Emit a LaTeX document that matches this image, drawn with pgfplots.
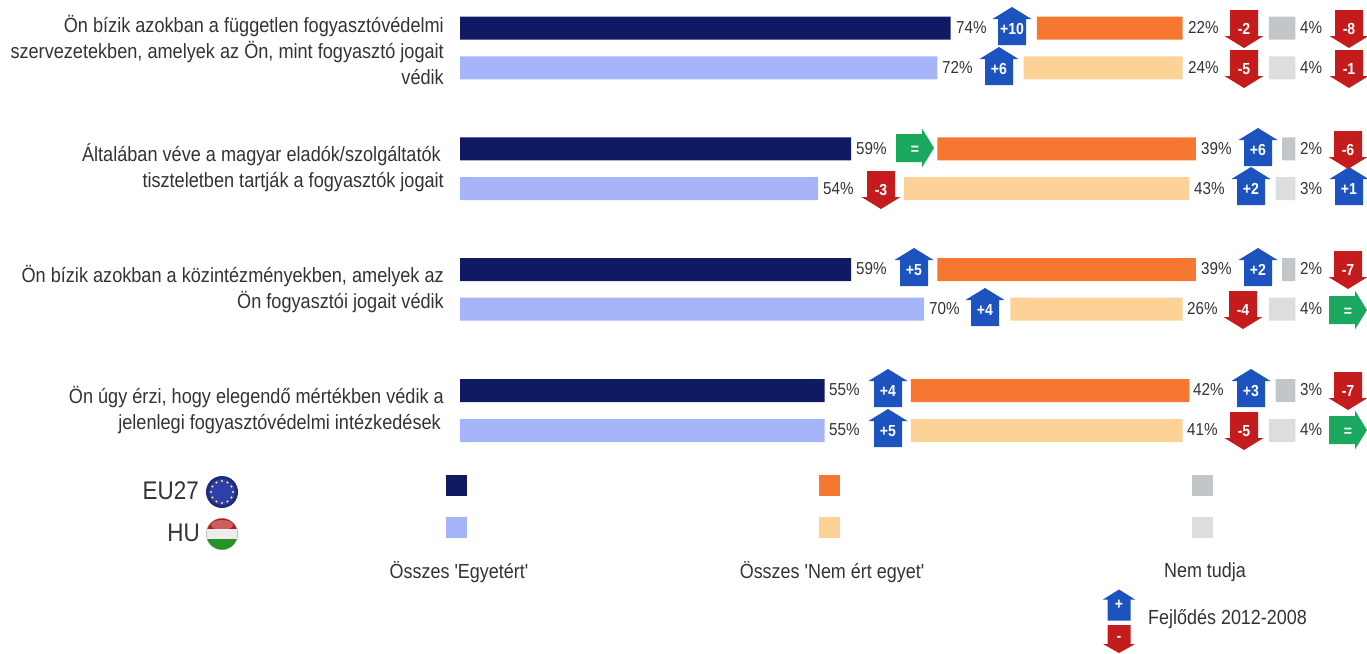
\documentclass[border=0pt]{standalone}
\usepackage{fontspec}
\setmainfont[FakeStretch=0.88,Ligatures=TeXOff]{Liberation Sans}
\usepackage{pgfplots}
\pgfplotsset{compat=1.18}

\definecolor{euagree}{HTML}{101A64}
\definecolor{huagree}{HTML}{A6B4FA}
\definecolor{eudis}{HTML}{F6772F}
\definecolor{hudis}{HTML}{FDD296}
\definecolor{eudk}{HTML}{C3C6C8}
\definecolor{hudk}{HTML}{DCDDDE}
\definecolor{arrblue}{HTML}{1C53BE}
\definecolor{arrred}{HTML}{C41C1C}
\definecolor{arrgreen}{HTML}{1BA85F}
\definecolor{txt}{HTML}{333333}

% change arrows, origin in the middle
\pgfdeclareplotmark{up}{%
  \pgfsetfillcolor{arrblue}%
  \pgfpathmoveto{\pgfpoint{-14pt}{-19pt}}\pgfpathlineto{\pgfpoint{14pt}{-19pt}}%
  \pgfpathlineto{\pgfpoint{14pt}{7pt}}\pgfpathlineto{\pgfpoint{19.5pt}{7pt}}%
  \pgfpathlineto{\pgfpoint{0pt}{19pt}}\pgfpathlineto{\pgfpoint{-19.5pt}{7pt}}%
  \pgfpathlineto{\pgfpoint{-14pt}{7pt}}\pgfpathclose\pgfusepath{fill}}
\pgfdeclareplotmark{down}{%
  \pgfsetfillcolor{arrred}%
  \pgfpathmoveto{\pgfpoint{-14pt}{19pt}}\pgfpathlineto{\pgfpoint{14pt}{19pt}}%
  \pgfpathlineto{\pgfpoint{14pt}{-7pt}}\pgfpathlineto{\pgfpoint{19.5pt}{-7pt}}%
  \pgfpathlineto{\pgfpoint{0pt}{-19pt}}\pgfpathlineto{\pgfpoint{-19.5pt}{-7pt}}%
  \pgfpathlineto{\pgfpoint{-14pt}{-7pt}}\pgfpathclose\pgfusepath{fill}}
\pgfdeclareplotmark{same}{%
  \pgfsetfillcolor{arrgreen}%
  \pgfpathmoveto{\pgfpoint{-19pt}{-14pt}}\pgfpathlineto{\pgfpoint{-19pt}{14pt}}%
  \pgfpathlineto{\pgfpoint{7pt}{14pt}}\pgfpathlineto{\pgfpoint{7pt}{19.5pt}}%
  \pgfpathlineto{\pgfpoint{19pt}{0pt}}\pgfpathlineto{\pgfpoint{7pt}{-19.5pt}}%
  \pgfpathlineto{\pgfpoint{7pt}{-14pt}}\pgfpathclose\pgfusepath{fill}}
% smaller ones for the key
\pgfdeclareplotmark{keyup}{%
  \pgfsetfillcolor{arrblue}%
  \pgfpathmoveto{\pgfpoint{-11.5pt}{-15.5pt}}\pgfpathlineto{\pgfpoint{11.5pt}{-15.5pt}}%
  \pgfpathlineto{\pgfpoint{11.5pt}{5.5pt}}\pgfpathlineto{\pgfpoint{16pt}{5.5pt}}%
  \pgfpathlineto{\pgfpoint{0pt}{15.5pt}}\pgfpathlineto{\pgfpoint{-16pt}{5.5pt}}%
  \pgfpathlineto{\pgfpoint{-11.5pt}{5.5pt}}\pgfpathclose\pgfusepath{fill}}
\pgfdeclareplotmark{keydown}{%
  \pgfsetfillcolor{arrred}%
  \pgfpathmoveto{\pgfpoint{-11.5pt}{14pt}}\pgfpathlineto{\pgfpoint{11.5pt}{14pt}}%
  \pgfpathlineto{\pgfpoint{11.5pt}{-5pt}}\pgfpathlineto{\pgfpoint{16pt}{-5pt}}%
  \pgfpathlineto{\pgfpoint{0pt}{-14pt}}\pgfpathlineto{\pgfpoint{-16pt}{-5pt}}%
  \pgfpathlineto{\pgfpoint{-11.5pt}{-5pt}}\pgfpathclose\pgfusepath{fill}}
% the two flags
\definecolor{eudark}{HTML}{1C2A80}
\definecolor{eumid}{HTML}{2E40A8}
\pgfdeclareplotmark{flageu}{%
  \pgfsetfillcolor{eudark}%
  \pgfpathcircle{\pgfpointorigin}{16pt}\pgfusepath{fill}%
  \pgfsetfillcolor{eumid}%
  \pgfpathcircle{\pgfpointorigin}{13pt}\pgfusepath{fill}%
  \pgfsetfillcolor{yellow!60!white}%
  \foreach \a in {0,30,...,330}{\pgfpathcircle{\pgfpointpolar{\a}{11pt}}{1.2pt}}%
  \pgfusepath{fill}}
\pgfdeclareplotmark{flaghu}{%
  \pgfsetfillcolor{black!35}%
  \pgfpathcircle{\pgfpointorigin}{16pt}\pgfusepath{fill}%
  \pgfpathcircle{\pgfpointorigin}{15.5pt}\pgfusepath{clip}%
  \pgfsetfillcolor{red!70!black!90!white}%
  \pgfpathrectangle{\pgfpoint{-16pt}{5.3pt}}{\pgfpoint{32pt}{11pt}}\pgfusepath{fill}%
  \pgfsetfillcolor{white!93!black}%
  \pgfpathrectangle{\pgfpoint{-16pt}{-5.3pt}}{\pgfpoint{32pt}{10.6pt}}\pgfusepath{fill}%
  \pgfsetfillcolor{green!50!black!85!white}%
  \pgfpathrectangle{\pgfpoint{-16pt}{-16pt}}{\pgfpoint{32pt}{10.7pt}}\pgfusepath{fill}%
  \pgfsetfillcolor{white}\pgfsetfillopacity{0.3}%
  \pgfpathellipse{\pgfpoint{0pt}{9pt}}{\pgfpoint{11pt}{0pt}}{\pgfpoint{0pt}{5pt}}\pgfusepath{fill}}

\newcommand{\catfont}{\fontsize{20.6}{26}\selectfont\color{txt}}
\newcommand{\valfont}{\fontsize{17.3}{20}\selectfont\color{txt}}
\newcommand{\arrfont}{\fontsize{16}{20}\selectfont\bfseries\color{white}}
\newcommand{\keyfont}{\fontsize{20.4}{22}\selectfont\color{txt}}
\newcommand{\geofont}{\fontsize{25.5}{30}\selectfont\color{txt}}

\pgfplotsset{
  base/.style={
    scale only axis, width=1367pt, height=653pt,
    ymin=0, ymax=653, y dir=reverse, hide axis,
    clip=false,
  },
  % one percent is 6.63 px, the first bar starts at px 460
  bars/.style={base, xbar stacked, bar width=23pt,
    xmin=-69.382, xmax=136.802},
  px/.style={base, xmin=0, xmax=1367},
  gap/.style={draw=none, fill=none},
  val/.style={only marks, mark=none, point meta=explicit symbolic,
    nodes near coords={\pgfplotspointmeta\%},
    nodes near coords style={anchor=west, inner sep=0pt, xshift=5pt, font=\valfont}},
  chg/.style={only marks, mark=#1, point meta=explicit symbolic,
    nodes near coords={\pgfplotspointmeta},
    nodes near coords style={anchor=center, inner sep=0pt, font=\arrfont}},
  sq/.style={only marks, mark=square*, mark size=10pt, mark options={fill=#1, draw=#1}},
}
\tikzset{cat/.style={anchor=east, align=right, inner sep=0pt, font=\catfont}}

\begin{document}
\begin{tikzpicture}
% EU27 bars: agree, gap, disagree, gap, don't know
\begin{axis}[bars]
  \addplot[fill=euagree, draw=none] coordinates {(74,28.2) (59,149) (59,269.5) (55,390.5)};
  \addplot[gap] coordinates {(13,28.2) (13,149) (13,269.5) (13,390.5)};
  \addplot[fill=eudis, draw=none] coordinates {(22,28.2) (39,149) (39,269.5) (42,390.5)};
  \addplot[gap] coordinates {(13,28.2) (13,149) (13,269.5) (13,390.5)};
  \addplot[fill=eudk, draw=none] coordinates {(4,28.2) (2,149) (2,269.5) (3,390.5)};
\end{axis}
% HU bars
\begin{axis}[bars]
  \addplot[fill=huagree, draw=none] coordinates {(72,68) (54,188.5) (70,309) (55,430.5)};
  \addplot[gap] coordinates {(13,68) (13,188.5) (13,309) (13,430.5)};
  \addplot[fill=hudis, draw=none] coordinates {(24,68) (43,188.5) (26,309) (41,430.5)};
  \addplot[gap] coordinates {(13,68) (13,188.5) (13,309) (13,430.5)};
  \addplot[fill=hudk, draw=none] coordinates {(4,68) (3,188.5) (4,309) (4,430.5)};
\end{axis}
% labels, arrows and key, in picture pixels
\begin{axis}[px]
  \addplot[val] table[meta=v] {
x y v
951 28 74
937 68 72
851 149 59
818 189 54
851 269 59
924 309 70
824 390 55
824 430 55
1183 28 22
1183 68 24
1196 149 39
1189 189 43
1196 269 39
1182 309 26
1188 390 42
1182 430 41
1295 28 4
1295 68 4
1295 149 2
1295 189 3
1295 269 2
1295 309 4
1295 390 3
1295 430 4
};
  \addplot[chg=up, nodes near coords style={yshift=-3pt}] table[meta=v] {
x y v
1012 26 +10
999 66 +6
1258 147 +6
1251 186 +2
1349 186 +1
914 267 +5
1258 267 +2
985 307 +4
888 388 +4
1251 388 +3
888 428 +5
};
  \addplot[chg=down] table[meta=v] {
x y v
1244 29 -2
1349 29 -8
1244 69 -5
1349 69 -1
1348 150 -6
881 190 -3
1348 270 -7
1243 310 -4
1348 391 -7
1244 431 -5
};
  \addplot[chg=same, nodes near coords style={yshift=-2pt}] table[meta=v] {
x y v
915 148 =
1348 310 =
1348 430 =
};

  % key squares
  \addplot[sq=euagree] coordinates {(456,485.5)};
  \addplot[sq=huagree] coordinates {(456,527)};
  \addplot[sq=eudis] coordinates {(829,485.5)};
  \addplot[sq=hudis] coordinates {(829,527)};
  \addplot[sq=eudk] coordinates {(1202,485.5)};
  \addplot[sq=hudk] coordinates {(1202,527)};
  \addplot[only marks, mark=flageu] coordinates {(222,492)};
  \addplot[only marks, mark=flaghu] coordinates {(222,534)};
  \addplot[chg=keyup] table[meta=v] {
x y v
1119 605 +
};
  \addplot[chg=keydown] table[meta=v] {
x y v
1119 639 -
};

  % question texts
  \node[cat] at (axis cs:444,50)
    {Ön bízik azokban a független fogyasztóvédelmi\\szervezetekben, amelyek az Ön, mint fogyasztó jogait\\védik};
  \node[cat] at (axis cs:444,168)
    {Általában véve a magyar eladók/szolgáltatók\hspace*{3pt}\\tiszteletben tartják a fogyasztók jogait};
  \node[cat] at (axis cs:444,289)
    {Ön bízik azokban a közintézményekben, amelyek az\\Ön fogyasztói jogait védik};
  \node[cat] at (axis cs:444,410)
    {Ön úgy érzi, hogy elegendő mértékben védik a\\jelenlegi fogyasztóvédelmi intézkedések\hspace*{3pt}};

  \node[anchor=east, inner sep=0pt, font=\geofont] at (axis cs:199,491) {EU27};
  \node[anchor=east, inner sep=0pt, font=\geofont] at (axis cs:200,533) {HU};
  \node[font=\keyfont] at (axis cs:459,572) {Összes 'Egyetért'};
  \node[font=\keyfont] at (axis cs:832,572) {Összes 'Nem ért egyet'};
  \node[font=\keyfont] at (axis cs:1205,572) {Nem tudja};
  \node[anchor=west, inner sep=0pt, font=\keyfont] at (axis cs:1148,619) {Fejlődés 2012-2008};
\end{axis}
\pgfresetboundingbox
\path[use as bounding box] (0,0) rectangle (1367pt,653pt);
\end{tikzpicture}
\end{document}
